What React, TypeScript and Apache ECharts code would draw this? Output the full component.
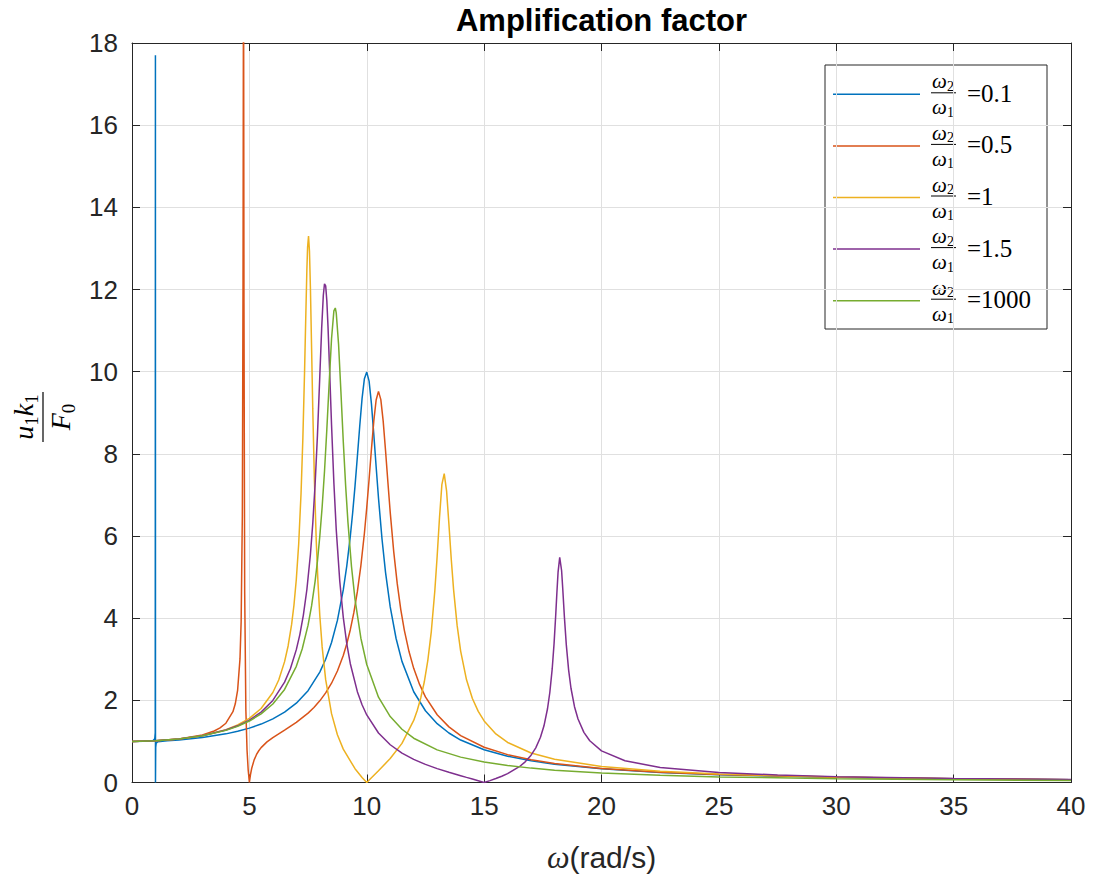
import React, { useEffect, useRef } from "react";
import * as echarts from "echarts";

// ω2/ω1 ratios shown in the legend
const ratioLabels = ["0.1", "0.5", "1", "1.5", "1000"];
const seriesColors = ["#0072BD", "#D95319", "#EDB120", "#7E2F8E", "#77AC30"];

const xMin = 0, xMax = 40, xStep = 5;
const yMin = 0, yMax = 18, yStep = 2;

// [ω (rad/s), u1·k1/F0]
const ratio0_1: [number, number][] = [
  [0, 1], [0.5, 1.004], [0.9, 1.023], [0.97, 1.067], [0.99, 1.211], [0.998, 17.7], [1, 0],
  [1.01, 0.863], [1.03, 0.955], [1.1, 0.993], [1.5, 1.017], [2, 1.037], [3, 1.094], [4, 1.184],
  [4.5, 1.247], [5, 1.324], [5.5, 1.422], [6, 1.548], [6.5, 1.711], [7, 1.93], [7.5, 2.236],
  [8, 2.687], [8.25, 3.001], [8.5, 3.407], [8.75, 3.946], [9, 4.688], [9.15, 5.271], [9.3, 5.995],
  [9.4, 6.567], [9.5, 7.215], [9.6, 7.93], [9.7, 8.666], [9.8, 9.345], [9.9, 9.83], [10, 9.99],
  [10.1, 9.77], [10.2, 9.216], [10.3, 8.475], [10.4, 7.685], [10.5, 6.925], [10.65, 5.928],
  [10.8, 5.115], [11, 4.273], [11.25, 3.505], [11.5, 2.948], [12, 2.209], [12.5, 1.746],
  [13, 1.431], [13.5, 1.205], [14, 1.034], [15, 0.796], [16, 0.639], [17, 0.528], [18, 0.446],
  [20, 0.333], [22.5, 0.246], [25, 0.19], [30, 0.125], [35, 0.089], [40, 0.067],
];

const ratio0_5: [number, number][] = [
  [0, 1], [1, 1.014], [2, 1.059], [3, 1.158], [3.5, 1.253], [3.75, 1.328], [4, 1.443], [4.3, 1.724],
  [4.4, 1.915], [4.5, 2.25], [4.6, 3.008], [4.65, 3.928], [4.7, 6.5], [4.73, 12.24], [4.751, 21],
  [4.77, 11.66], [4.8, 4.64], [4.85, 1.773], [4.9, 0.793], [4.95, 0.299], [5, 0], [5.05, 0.201],
  [5.1, 0.347], [5.2, 0.545], [5.3, 0.677], [5.4, 0.773], [5.5, 0.849], [5.75, 0.988], [6, 1.093],
  [6.5, 1.275], [7, 1.463], [7.5, 1.688], [7.75, 1.826], [8, 1.988], [8.25, 2.181], [8.5, 2.417],
  [8.75, 2.713], [9, 3.093], [9.15, 3.377], [9.3, 3.719], [9.45, 4.134], [9.6, 4.644], [9.75, 5.28],
  [9.9, 6.067], [10, 6.69], [10.1, 7.381], [10.2, 8.11], [10.3, 8.797], [10.4, 9.31], [10.5, 9.52],
  [10.6, 9.32], [10.7, 8.797], [10.8, 8.08], [10.9, 7.313], [11, 6.576], [11.15, 5.615],
  [11.3, 4.834], [11.45, 4.21], [11.6, 3.71], [11.8, 3.187], [12, 2.779], [12.25, 2.387],
  [12.5, 2.084], [13, 1.649], [13.5, 1.354], [14, 1.142], [15, 0.858], [16, 0.678], [17, 0.554],
  [18, 0.464], [20, 0.343], [22.5, 0.251], [25, 0.194], [30, 0.126], [35, 0.09], [40, 0.067],
];

const ratio1: [number, number][] = [
  [0, 1], [1, 1.014], [2, 1.057], [3, 1.14], [4, 1.286], [4.5, 1.4], [5, 1.56], [5.5, 1.8],
  [6, 2.191], [6.25, 2.496], [6.5, 2.942], [6.65, 3.323], [6.8, 3.847], [6.9, 4.32], [7, 4.946],
  [7.1, 5.8], [7.2, 7.024], [7.28, 8.406], [7.35, 9.98], [7.4, 11.27], [7.45, 12.5], [7.48, 13.03],
  [7.52, 13.3], [7.56, 12.93], [7.6, 12.05], [7.65, 10.58], [7.7, 9.1], [7.77, 7.36], [7.85, 5.862],
  [7.92, 4.895], [8, 4.066], [8.1, 3.3], [8.25, 2.503], [8.5, 1.676], [8.75, 1.164], [9, 0.812],
  [9.5, 0.335], [9.8, 0.124], [10, 0], [10.2, 0.117], [10.5, 0.287], [11, 0.583], [11.5, 0.952],
  [12, 1.511], [12.15, 1.754], [12.3, 2.057], [12.45, 2.446], [12.6, 2.964], [12.75, 3.674],
  [12.9, 4.666], [13, 5.515], [13.1, 6.455], [13.2, 7.25], [13.3, 7.52], [13.4, 7.1], [13.5, 6.29],
  [13.6, 5.435], [13.7, 4.69], [13.85, 3.824], [14, 3.2], [14.25, 2.5], [14.5, 2.046],
  [14.75, 1.731], [15, 1.499], [15.5, 1.182], [16, 0.975], [17, 0.719], [18, 0.566], [20, 0.39],
  [22.5, 0.274], [25, 0.206], [30, 0.131], [35, 0.092], [40, 0.068],
];

const ratio1_5: [number, number][] = [
  [0, 1], [1, 1.014], [2, 1.056], [3, 1.137], [4, 1.276], [4.5, 1.38], [5, 1.519], [5.5, 1.713],
  [6, 1.997], [6.5, 2.443], [6.75, 2.775], [7, 3.234], [7.15, 3.601], [7.3, 4.075], [7.45, 4.698],
  [7.6, 5.55], [7.7, 6.3], [7.8, 7.257], [7.9, 8.456], [8, 9.89], [8.08, 11.06], [8.15, 11.86],
  [8.2, 12.14], [8.25, 12.09], [8.3, 11.72], [8.35, 11.09], [8.42, 10.0], [8.5, 8.71], [8.6, 7.29],
  [8.7, 6.16], [8.85, 4.904], [9, 4.02], [9.15, 3.376], [9.3, 2.891], [9.6, 2.211], [9.8, 1.894],
  [10, 1.644], [10.5, 1.205], [11, 0.919], [11.5, 0.716], [12, 0.563], [12.5, 0.441], [13, 0.338],
  [13.5, 0.249], [14, 0.166], [14.25, 0.125], [14.5, 0.085], [14.75, 0.043], [15, 0],
  [15.25, 0.046], [15.5, 0.096], [15.75, 0.152], [16, 0.216], [16.5, 0.384], [16.75, 0.503],
  [17, 0.664], [17.2, 0.843], [17.4, 1.1], [17.55, 1.38], [17.7, 1.795], [17.8, 2.197],
  [17.9, 2.764], [17.98, 3.387], [18.05, 4.078], [18.1, 4.623], [18.15, 5.12], [18.22, 5.48],
  [18.3, 5.16], [18.35, 4.71], [18.42, 4.026], [18.5, 3.357], [18.6, 2.736], [18.7, 2.294],
  [18.85, 1.845], [19, 1.544], [19.25, 1.221], [19.5, 1.015], [20, 0.769], [21, 0.529],
  [22.5, 0.367], [25, 0.245], [27.5, 0.182], [30, 0.143], [35, 0.097], [40, 0.071],
];

const ratio1000: [number, number][] = [
  [0, 1], [1, 1.014], [2, 1.056], [3, 1.136], [4, 1.269], [4.5, 1.367], [5, 1.496], [5.5, 1.669],
  [6, 1.91], [6.5, 2.265], [7, 2.827], [7.25, 3.249], [7.5, 3.83], [7.65, 4.299], [7.8, 4.895],
  [7.9, 5.388], [8, 5.99], [8.1, 6.706], [8.2, 7.57], [8.3, 8.598], [8.4, 9.73], [8.5, 10.8],
  [8.6, 11.48], [8.66, 11.55], [8.7, 11.43], [8.8, 10.66], [8.9, 9.506], [9, 8.3], [9.1, 7.231],
  [9.2, 6.33], [9.35, 5.258], [9.5, 4.456], [9.75, 3.512], [10, 2.873], [10.5, 2.076], [11, 1.605],
  [11.5, 1.296], [12, 1.078], [13, 0.794], [14, 0.618], [15, 0.499], [16, 0.414], [17, 0.35],
  [18, 0.301], [20, 0.231], [22.5, 0.174], [25, 0.136], [30, 0.091], [35, 0.065], [40, 0.049],
];

const seriesData = [ratio0_1, ratio0_5, ratio1, ratio1_5, ratio1000];

export default function App() {
  const ref = useRef<HTMLDivElement>(null);
  useEffect(() => {
    if (!ref.current) return;
    const chart = echarts.init(ref.current, null, { renderer: "svg" });
    const sans = "'Liberation Sans', Arial, Helvetica, sans-serif";
    const serif = "'Liberation Serif', 'DejaVu Serif', 'Times New Roman', serif";
    const axisColor = "#262626";
    const plotL = 132, plotR = 1071, plotT = 43, plotB = 782.5;
    const tickFont = 26;

    const baseAxis = (show: boolean) => ({
      type: "value" as const,
      axisLine: { show: true, onZero: false, lineStyle: { color: axisColor, width: 1 } },
      axisTick: { show: true, inside: true, length: 8, lineStyle: { color: axisColor, width: 1 } },
      axisLabel: { show, color: axisColor, fontSize: tickFont, fontFamily: sans },
      splitLine: { show, lineStyle: { color: "#e0e0e0", width: 1 } },
    });

    const center = {
      align: "center", verticalAlign: "middle", textAlign: "center", textVerticalAlign: "middle",
    };
    const fracRich = {
      w: { fontSize: 21, lineHeight: 22, fontStyle: "italic", fontFamily: serif, color: "#000", fill: "#000" },
      s: { fontSize: 14, lineHeight: 14, fontFamily: serif, color: "#000", fill: "#000", padding: [10, 0, 0, 0] },
    };

    const legendX = 825, legendY = 65, legendW = 222, legendH = 264;
    const rowY0 = 94.3, rowStep = 51.6;
    const legendChildren: any[] = [
      {
        type: "rect",
        shape: { x: legendX, y: legendY, width: legendW, height: legendH },
        style: { fill: "#ffffff", stroke: axisColor, lineWidth: 1 },
      },
    ];
    ratioLabels.forEach((lab, i) => {
      const cy = rowY0 + rowStep * i;
      legendChildren.push(
        {
          type: "line",
          shape: { x1: 833, y1: cy, x2: 920, y2: cy },
          style: { stroke: seriesColors[i], lineWidth: 1.5 },
        },
        {
          type: "text",
          x: 943, y: cy - 13,
          style: { text: "{w|ω}{s|2}", rich: fracRich, ...center },
        },
        {
          type: "line",
          shape: { x1: 931, y1: cy - 1.5, x2: 956, y2: cy - 1.5 },
          style: { stroke: "#000", lineWidth: 1 },
        },
        {
          type: "text",
          x: 943, y: cy + 13,
          style: { text: "{w|ω}{s|1}", rich: fracRich, ...center },
        },
        {
          type: "text",
          x: 967, y: cy - 1,
          style: {
            text: "=" + lab, fontSize: 25, fontFamily: serif, fill: "#000",
            align: "left", verticalAlign: "middle", textAlign: "left", textVerticalAlign: "middle",
          },
        }
      );
    });

    const ylabRich = {
      m: { fontSize: 28, fontStyle: "italic", fontFamily: serif, color: "#000", fill: "#000" },
      s: { fontSize: 19, fontFamily: serif, color: "#000", fill: "#000", padding: [16, 0, 0, 0] },
    };

    const option: any = {
      animation: false,
      backgroundColor: "#ffffff",
      grid: { left: plotL, top: plotT, width: plotR - plotL, height: plotB - plotT, containLabel: false },
      xAxis: [
        { ...baseAxis(true), min: xMin, max: xMax, interval: xStep, position: "bottom",
          axisLabel: { show: true, color: axisColor, fontSize: tickFont, fontFamily: sans, margin: 10 } },
        { ...baseAxis(false), min: xMin, max: xMax, interval: xStep, position: "top" },
      ],
      yAxis: [
        { ...baseAxis(true), min: yMin, max: yMax, interval: yStep, position: "left",
          axisLabel: { show: true, color: axisColor, fontSize: tickFont, fontFamily: sans, margin: 14 } },
        { ...baseAxis(false), min: yMin, max: yMax, interval: yStep, position: "right" },
      ],
      series: seriesData.map((d, i) => ({
        type: "line",
        name: "ω2/ω1=" + ratioLabels[i],
        data: d,
        xAxisIndex: 0,
        yAxisIndex: 0,
        showSymbol: false,
        symbol: "none",
        clip: true,
        lineStyle: { color: seriesColors[i], width: 1.5 },
        itemStyle: { color: seriesColors[i] },
        z: 2 + i,
      })),
      graphic: [
        {
          type: "text",
          x: (plotL + plotR) / 2, y: 20,
          style: {
            text: "Amplification factor", fontSize: 31, fontWeight: "bold", fontFamily: sans, fill: "#000",
            ...center,
          },
        },
        {
          type: "text",
          x: (plotL + plotR) / 2, y: 857,
          style: {
            text: "{w|ω}{t|(rad/s)}",
            ...center,
            rich: {
              w: { fontSize: 32, fontStyle: "italic", fontFamily: serif, fill: axisColor, color: axisColor },
              t: { fontSize: 30, fontFamily: sans, fill: axisColor, color: axisColor },
            },
          },
        },
        {
          type: "group",
          x: 43, y: 417,
          rotation: Math.PI / 2,
          children: [
            {
              type: "text",
              x: 0, y: -20,
              style: { text: "{m|u}{s|1}{m|k}{s|1}", rich: ylabRich, ...center },
            },
            {
              type: "line",
              shape: { x1: -25, y1: 0, x2: 25, y2: 0 },
              style: { stroke: "#000", lineWidth: 1.2 },
            },
            {
              type: "text",
              x: 0, y: 17,
              style: { text: "{m|F}{s|0}", rich: ylabRich, ...center },
            },
          ],
        },
        { type: "group", z: 100, children: legendChildren },
      ],
    };
    chart.setOption(option);
    return () => chart.dispose();
  }, []);
  return (
    <div
      ref={ref}
      style={{ position: "fixed", left: 0, top: 0, width: 1093, height: 877, background: "#ffffff" }}
    />
  );
}
